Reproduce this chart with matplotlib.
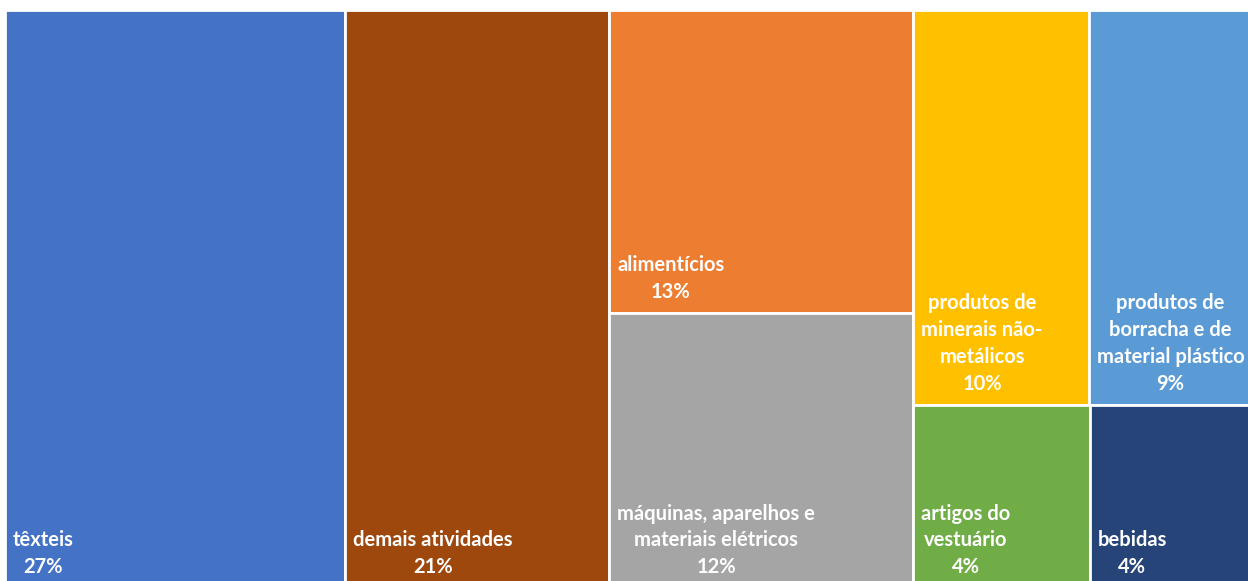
import matplotlib
matplotlib.use("Agg")
import matplotlib.pyplot as plt
from matplotlib.patches import Rectangle

# Share of each industrial activity (%)
labels = [
    "têxteis",
    "demais atividades",
    "alimentícios",
    "máquinas, aparelhos e\nmateriais elétricos",
    "produtos de\nminerais não-\nmetálicos",
    "produtos de\nborracha e de\nmaterial plástico",
    "artigos do\nvestuário",
    "bebidas",
]
values = [27.3, 21.2, 12.8, 11.6, 9.6, 8.9, 4.49, 4.11]
colors = ["#4472C4", "#9E480E", "#ED7D31", "#A5A5A5",
          "#FFC000", "#5B9BD5", "#70AD47", "#264478"]

# Nesting of the tiles (indices into the lists above)
structure = [0, 1, [2, 3], [[4, 5], [6, 7]]]


def total(node):
    if isinstance(node, list):
        return sum(total(n) for n in node)
    return values[node]


def layout(node, x, y, w, h, horizontal, out):
    """Slice-and-dice layout, alternating the split direction per level."""
    if not isinstance(node, list):
        out[node] = (x, y, w, h)
        return
    s = total(node)
    if horizontal:
        cx = x
        for child in node:
            cw = w * total(child) / s
            layout(child, cx, y, cw, h, not horizontal, out)
            cx += cw
    else:
        cy = y + h
        for child in node:
            ch = h * total(child) / s
            cy -= ch
            layout(child, x, cy, w, ch, not horizontal, out)


W, H = 100.0, 46.4
rects = {}
layout(structure, 0, 0, W, H, True, rects)

fig = plt.figure(figsize=(12.48, 5.81), dpi=100)
ax = fig.add_axes([5 / 1248, -7 / 581, 1246 / 1248, 578 / 581])
ax.set_xlim(0, W)
ax.set_ylim(0, H)
ax.axis("off")

grand = sum(values)
px_x = W / 1246
px_y = H / 578
for i, (x, y, w, h) in rects.items():
    ax.add_patch(Rectangle((x, y), w, h, facecolor=colors[i],
                           edgecolor="white", linewidth=2))
    pct = values[i] / grand * 100
    ax.text(x + 8 * px_x, y + 11 * px_y, f"{labels[i]}\n{pct:.0f}%",
            ha="left", va="bottom", multialignment="center",
            color="white", fontsize=14.5, fontweight="bold",
            family=["Lato", "DejaVu Sans"], linespacing=1.42)

fig.savefig("out.png", dpi=100)
